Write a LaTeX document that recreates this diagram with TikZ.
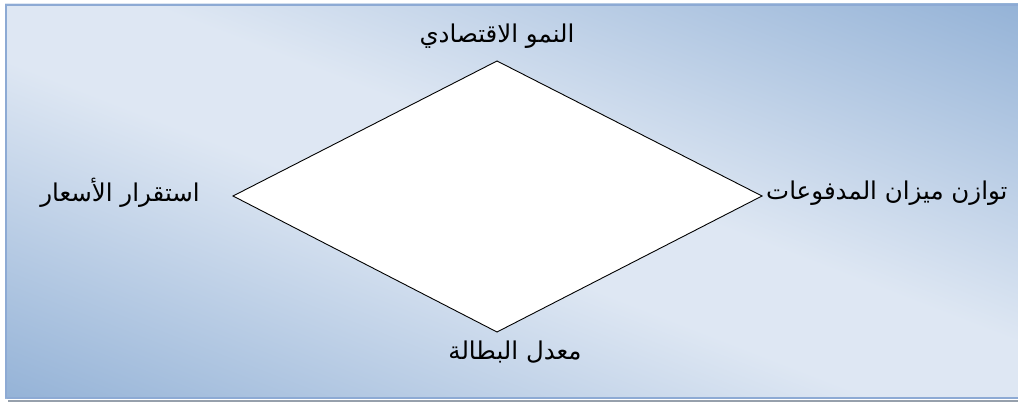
\documentclass[tikz,border=0pt]{standalone}
\usepackage{fontspec}
\newfontfamily\arabicfont[Script=Arabic]{DejaVu Sans}
\TeXXeTstate=1
\usetikzlibrary{positioning,calc}
\definecolor{bgdark}{RGB}{149,179,215}
\definecolor{bglight}{RGB}{222,231,243}
\definecolor{edgeblue}{RGB}{141,170,212}
\definecolor{shadowgray}{RGB}{150,160,172}
\pgfdeclareverticalshading{panelshade}{100bp}{color(0bp)=(bgdark); color(14.6bp)=(bgdark); color(45bp)=(bglight); color(55bp)=(bglight); color(85.4bp)=(bgdark); color(100bp)=(bgdark)}

\begin{document}
\begin{tikzpicture}[
		x=1pt, y=-1pt,
		panel/.style={shading=panelshade, shading angle=-45},
		rim/.style={draw=edgeblue, line width=2.5pt},
		diam/.style={draw=black, fill=white, line width=0.9pt, line join=miter},
		goal/.style={font=\arabicfont\fontsize{24.5}{28}\selectfont, inner sep=0pt}
		]
		\useasboundingbox (0,0) rectangle (1018,406);
		
		% -------------------------------------------------
		% Background panel
		% -------------------------------------------------
		\begin{scope}[y=1pt, transform canvas={shift={(5,-4)}, xscale=10.13, yscale=3.94}]
			\shade[panel] (0,0) rectangle (100,-100);
		\end{scope}
		\draw[rim] (6.2,398) -- (6.2,5.2) -- (1018,5.2);
		\draw[draw=edgeblue, line width=2pt] (7,398) -- (1018,398);
		\draw[draw=shadowgray, line width=2pt] (8,401) -- (1018,401);
		
		% -------------------------------------------------
		% Diamond
		% -------------------------------------------------
		\coordinate (top) at (497,61);
		\coordinate (bot) at (497,332);
		\coordinate (lft) at (233,196);
		\coordinate (rgt) at (762,196);
		\draw[diam] (top) -- (rgt) -- (bot) -- (lft) -- cycle;
		
		% -------------------------------------------------
		% Labels
		% -------------------------------------------------
		\node[goal] (growth) at ($(top)+(0,-25)$) {\beginR النمو الاقتصادي\endR};
		\node[goal, anchor=east] (prices) at ($(lft)+(-33,-3)$) {\beginR استقرار الأسعار\endR};
		\node[goal, anchor=west] (balance) at ($(rgt)+(4,-3)$) {\beginR توازن ميزان المدفوعات\endR};
		\node[goal] (jobless) at ($(bot)+(18,20)$) {\beginR معدل البطالة\endR};
		
	\end{tikzpicture}
\end{document}
